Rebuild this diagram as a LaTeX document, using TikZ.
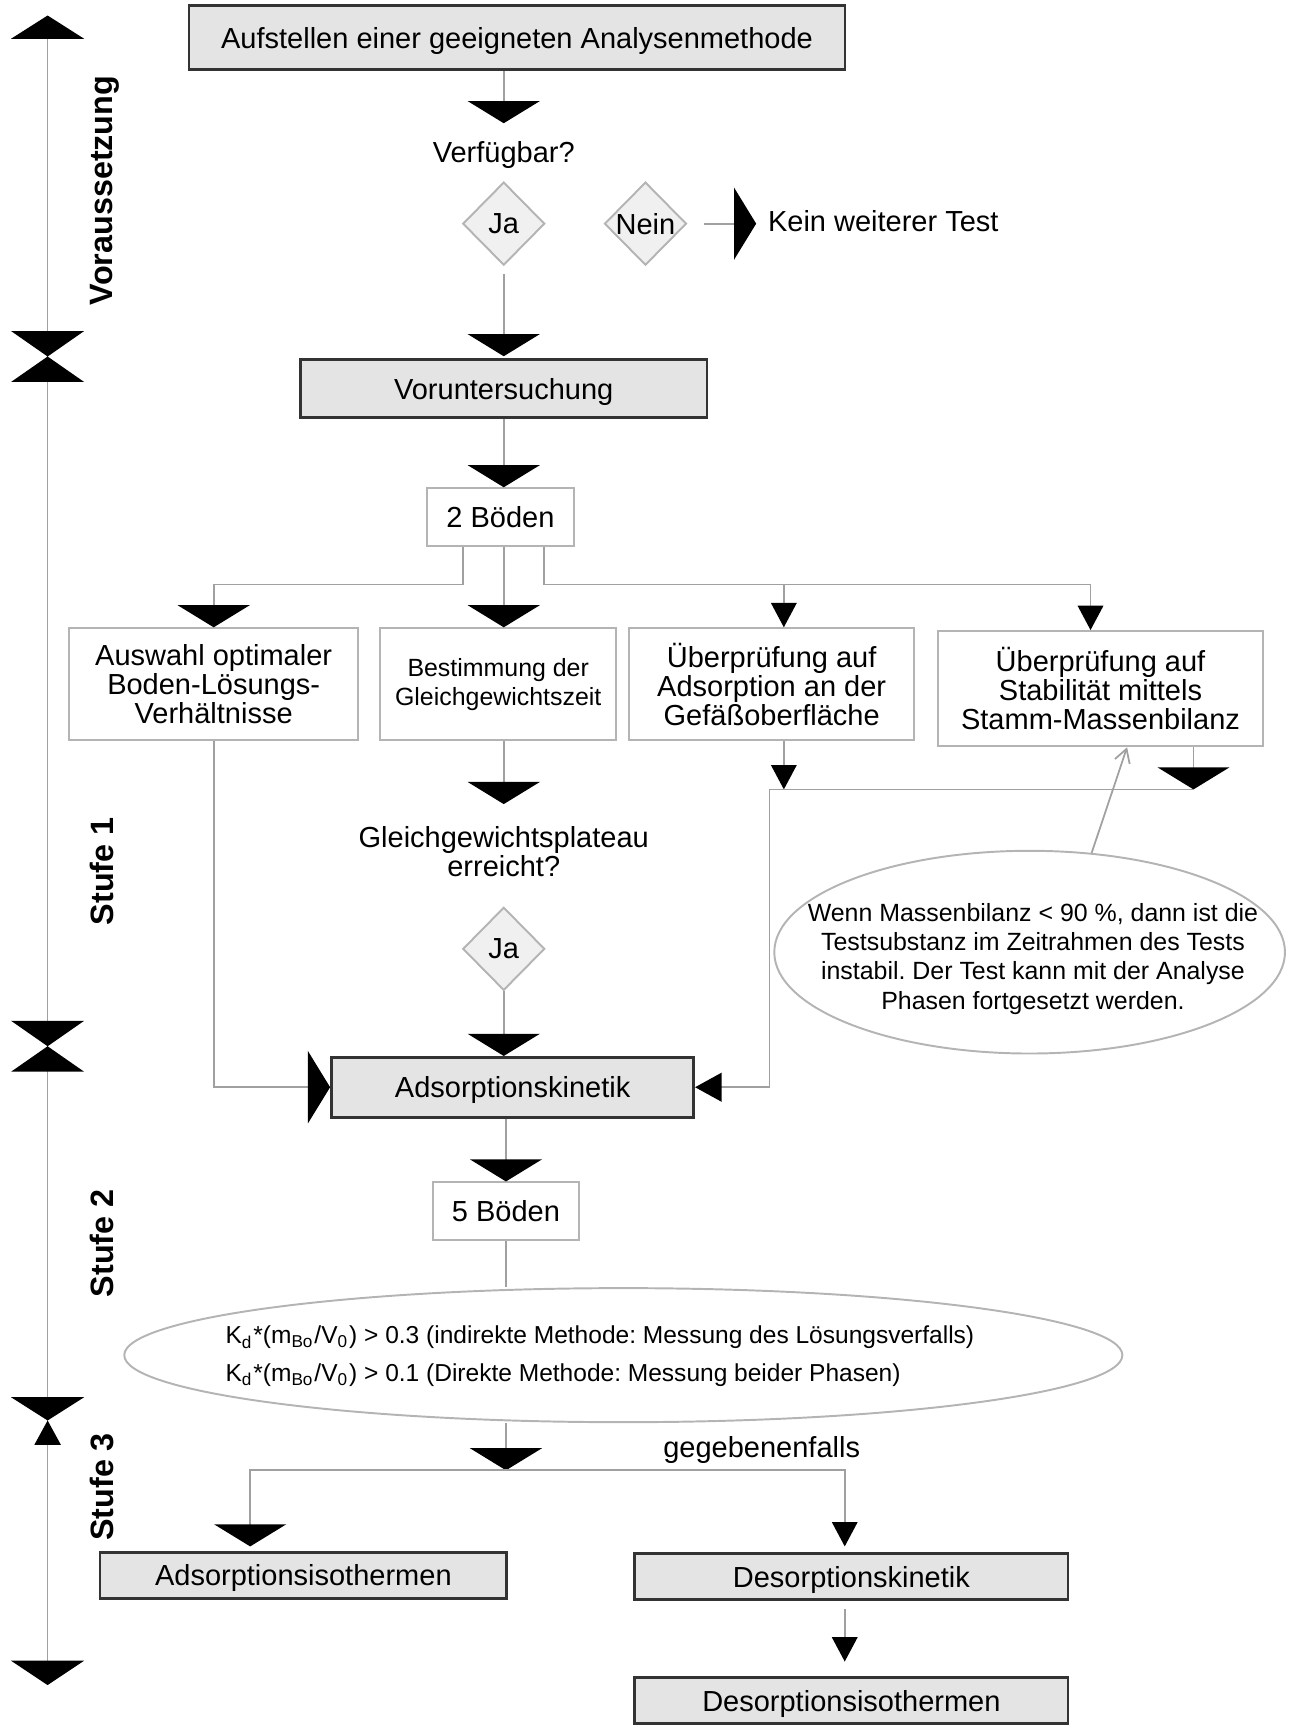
\documentclass[tikz,border=0pt]{standalone}
\usepackage{fontspec}
\setmainfont{Liberation Sans}
\frenchspacing
\usetikzlibrary{arrows.meta,shapes.geometric}
\definecolor{boxfill}{HTML}{E4E4E4}
\definecolor{rim}{HTML}{B4B4B4}
\definecolor{wire}{HTML}{A0A0A0}
\newcommand{\boxfont}{\fontsize{7.45}{7.4}\selectfont}
\newcommand{\notefont}{\fontsize{6.4}{7.5}\selectfont}
\tikzset{link/.style={draw=wire,line width=.45pt},bigflow/.style={link,-{Triangle[length=.2cm,width=.65cm,color=black,fill=black]}},thinflow/.style={link,-{Triangle[length=.22cm,width=.23cm,color=black,fill=black]}},midflow/.style={link,-{Triangle[length=.24cm,width=.26cm,color=black,fill=black]}},noteflow/.style={link,-{Straight Barb[length=.12cm,width=.14cm]}},greybox/.style={draw=black!80,fill=boxfill,line width=.7pt,inner sep=0,font=\boxfont,text depth=0pt},whitebox/.style={draw=rim,fill=white,line width=.5pt,inner sep=0,font=\boxfont,align=center},decision/.style={diamond,draw=rim,fill=black!6,line width=.5pt,inner sep=0,minimum width=.74cm,minimum height=.75cm,font=\boxfont},bubble/.style={ellipse,draw=rim,line width=.5pt,inner sep=0},tag/.style={inner sep=0,font=\boxfont,align=center},stage/.style={rotate=90,inner sep=0,font=\fontsize{8.3}{9}\selectfont\bfseries}}

\begin{document}
\begin{tikzpicture}[x=.01cm,y=-.01cm]
 \useasboundingbox (0,0) rectangle (1173,1568);
 % stage axis
 \draw[link] (43,20)--(43,1515);
 \fill (43,14)--(76,35)--(10,35)--cycle;
 \foreach \y in {322,945}{\fill (10,\y-23)--(76,\y-23)--(43,\y)--(76,\y+23)--(10,\y+23)--(43,\y)--cycle;}
 \fill (10,1262)--(76,1262)--(43,1283)--cycle; \fill (43,1283)--(55,1305)--(31,1305)--cycle;
 \fill (10,1500)--(76,1500)--(43,1522)--cycle;
 \node[stage] (s0) at (95,172) {Voraussetzung};
 \node[stage] (s1) at (92,787) {Stufe 1};
 \node[stage] (s2) at (92,1123) {Stufe 2};
 \node[stage] (s3) at (92,1343) {Stufe 3};
 % nodes
 \node[greybox,minimum width=5.92cm,minimum height=.58cm] (top) at (467,34) {Aufstellen einer geeigneten Analysenmethode};
 \node[tag,minimum height=.56cm] (verf) at (455,140) {Verfügbar?};
 \node[decision] (ja) at (455,202) {Ja};
 \node[decision] (nein) at (583,202) {Nein};
 \node[tag,anchor=west] (kein) at (693,200) {Kein weiterer Test};
 \node[greybox,minimum width=3.67cm,minimum height=.52cm] (voru) at (455,351) {Voruntersuchung};
 \node[whitebox,minimum width=1.32cm,minimum height=.52cm] (boden2) at (452,467) {2 Böden};
 \node[whitebox,minimum width=2.61cm,minimum height=1.01cm] (auswahl) at (193,618) {Auswahl optimaler\\Boden-Lösungs-\\Verhältnisse};
 \node[whitebox,minimum width=2.13cm,minimum height=1.01cm,font=\notefont] (bestimm) at (450,618) {Bestimmung der\\Gleichgewichtszeit};
 \node[whitebox,minimum width=2.57cm,minimum height=1.01cm] (gefaess) at (697,618) {Überprüfung auf\\Adsorption an der\\Gefäßoberfläche};
 \node[whitebox,minimum width=2.93cm,minimum height=1.04cm] (stab) at (994,622) {Überprüfung auf\\Stabilität mittels\\Stamm-Massenbilanz};
 \node[tag,minimum height=.84cm] (plateau) at (455,769) {Gleichgewichtsplateau\\erreicht?};
 \node[decision] (ja2) at (455,857) {Ja};
 \node[bubble,minimum width=4.61cm,minimum height=1.83cm] (massen) at (930,860) {};
 \node[tag,font=\notefont] (massentxt) at (933,866) {Wenn Massenbilanz < 90 \%, dann ist die\\Testsubstanz im Zeitrahmen des Tests\\instabil. Der Test kann mit der Analyse\\Phasen fortgesetzt werden.};
 \node[greybox,minimum width=3.27cm,minimum height=.54cm] (adskin) at (463,982) {Adsorptionskinetik};
 \node[whitebox,minimum width=1.32cm,minimum height=.52cm] (boden5) at (457,1094) {5 Böden};
 \node[bubble,minimum width=9.01cm,minimum height=1.21cm] (kd) at (563,1224) {};
 \node[tag,font=\fontsize{6.3}{9.7}\selectfont,align=left,anchor=west] (kdtxt) at (203,1225) {K\textsubscript{d}*(m\textsubscript{Bo}/V\textsubscript{0}) > 0.3 (indirekte Methode: Messung des Lösungsverfalls)\\K\textsubscript{d}*(m\textsubscript{Bo}/V\textsubscript{0}) > 0.1 (Direkte Methode: Messung beider Phasen)};
 \node[tag] (gegeb) at (688,1310) {gegebenenfalls};
 \node[greybox,minimum width=3.67cm,minimum height=.42cm] (adsiso) at (274,1423) {Adsorptionsisothermen};
 \node[greybox,minimum width=3.91cm,minimum height=.42cm] (deskin) at (769,1424) {Desorptionskinetik};
 \node[greybox,minimum width=3.91cm,minimum height=.42cm] (desiso) at (769,1536) {Desorptionsisothermen};
 % rails and columns
 \coordinate (rail) at (0,528); \coordinate (merge) at (695,713); \coordinate (split) at (457,1328);
 \coordinate (c3) at (708,0); \coordinate (c4) at (985,0); \coordinate (c5) at (1078,0);
 % connectors
 \draw[bigflow] (top.south -| verf.north)--(verf.north);
 \draw[bigflow,shorten <=.07cm,shorten >=.02cm] (ja)--(voru);
 \draw[bigflow,shorten <=.15cm,shorten >=.1cm] (nein.east)--(nein.east -| kein.west);
 \draw[bigflow] (voru.south)--(voru.south |- boden2.north);
 \draw[bigflow] ([xshift=-.34cm]boden2.south) |- (rail -| auswahl.north)--(auswahl.north);
 \draw[bigflow] (voru.south |- boden2.south)--(voru.south |- bestimm.north);
 \draw[link] ([xshift=.39cm]boden2.south) |- (rail -| c4);
 \draw[thinflow] (c3 |- rail)--(c3 |- gefaess.north);
 \draw[thinflow] (c4 |- rail)--(c4 |- stab.north);
 \draw[thinflow] (c3 |- gefaess.south)--(c3 |- merge);
 \draw[bigflow] (c5 |- stab.south)--(c5 |- merge);
 \draw[midflow] (c5 |- merge)--(merge) |- (adskin.east);
 \draw[bigflow] (auswahl.south) |- (adskin.west);
 \draw[bigflow] (bestimm.south -| plateau.north)--(plateau.north);
 \draw[bigflow] (ja2)--(ja2 |- adskin.north);
 \draw[noteflow] (massen.58)--([xshift=.24cm]stab.south);
 \draw[bigflow] (boden5.north |- adskin.south)--(boden5.north);
 \draw[link] (boden5.south)--(boden5.south |- kd.north);
 \draw[bigflow] (boden5.south |- kd.south)--(split);
 \draw[bigflow,shorten >=.04cm] (split) -| ([xshift=-.48cm]adsiso.north);
 \draw[thinflow,shorten >=.05cm] (split) -| ([xshift=-.06cm]deskin.north);
 \draw[thinflow,shorten <=.07cm,shorten >=.13cm] ([xshift=-.06cm]deskin.south)--([xshift=-.06cm]desiso.north);
\end{tikzpicture}
\end{document}
